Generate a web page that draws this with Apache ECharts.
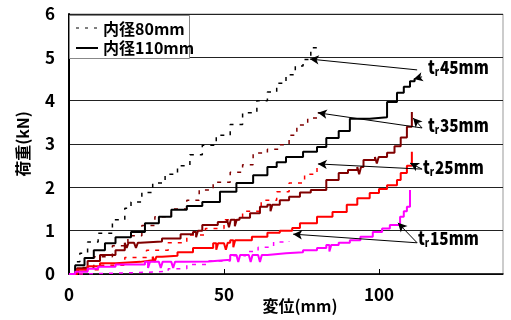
<!DOCTYPE html>
<html><head><meta charset="utf-8">
<script src="https://cdn.jsdelivr.net/npm/echarts@6/dist/echarts.min.js"></script>
<style>html,body{margin:0;padding:0;background:#fff}#c{width:511px;height:320px}</style>
</head><body><div id="c"></div>
<script>
// ---- data (x: 変位 mm, y: 荷重 kN) ----
var xTicks = [0, 50, 100];
var yTicks = [0, 1, 2, 3, 4, 5, 6];
// 内径80mm (dashed)
var t45_80 = [[0,0],[2,0.28],[3.5,0.48],[6,0.74],[9.4,0.94],[14,1.25],[18,1.52],[20,1.66],[23.5,1.88],[27,2.1],[31,2.3],[35,2.5],[39,2.75],[43,2.97],[47.5,3.2],[52,3.45],[56,3.72],[60.6,4.0],[64,4.2],[67,4.4],[70,4.6],[73,4.8],[75.5,4.95],[78,5.22],[81,5.22]];
var t35_80 = [[0,0],[3,0.15],[8,0.4],[14,0.65],[19,0.88],[23.5,1.12],[27.7,1.32],[33,1.5],[38,1.7],[42,1.94],[46.5,2.12],[52,2.35],[56,2.52],[59.4,2.79],[64,2.88],[68,2.98],[71,3.2],[73.5,3.44],[77,3.6],[80,3.72],[82,3.72]];
var t25_80 = [[0,0],[5,0.1],[10,0.2],[18,0.38],[25,0.55],[32,0.72],[38,0.9],[44,1.05],[50,1.25],[56,1.45],[62,1.7],[67,1.9],[71,2.1],[76,2.3],[80,2.54],[82,2.54]];
var t15_80 = [[0,0],[5,0.02],[15,0.04],[25,0.06],[32,0.12],[38,0.22],[45,0.3],[52,0.42],[57,0.52],[61,0.62],[66,0.74],[71,0.76]];
// 内径110mm (solid)
var t45_110 = [[0,0],[2,0.2],[5,0.37],[8,0.55],[11.6,0.71],[15,0.85],[20,0.97],[24.5,1.17],[29,1.32],[33,1.48],[38,1.57],[43,1.66],[48.7,1.9],[54,2.1],[59.4,2.28],[64,2.47],[67,2.58],[70,2.7],[75.5,2.82],[80,2.93],[83,3.14],[87,3.3],[90.6,3.58],[97,3.62],[102.6,3.97],[105.8,4.18],[108,4.32],[110,4.45],[111.5,4.5]];
var t35_110 = [[0,0],[2.6,0.13],[6,0.3],[10,0.44],[15,0.55],[18,0.72],[18.6,0.6],[19.2,0.72],[21,0.72],[21.6,0.6],[22.2,0.72],[23,0.75],[30,0.82],[36,0.92],[40,0.97],[41,0.85],[41.6,1.0],[43,1.13],[45,1.13],[48,1.2],[51,1.25],[51.6,1.08],[52.2,1.25],[53.5,1.1],[54.1,1.25],[55,1.3],[58.4,1.4],[61.6,1.55],[64,1.6],[65,1.45],[65.6,1.6],[68,1.7],[71,1.78],[74.5,1.88],[78,1.94],[83,2.17],[87,2.33],[90,2.4],[93,2.47],[93.6,2.3],[94.2,2.47],[95,2.63],[98.7,2.7],[99.3,2.55],[99.9,2.7],[102.6,2.8],[105,2.95],[107,3.15],[109,3.4],[110.6,3.74]];
var t25_110 = [[0,0],[2.6,0.1],[6,0.18],[10,0.25],[15,0.28],[23,0.32],[27,0.4],[27.6,0.28],[28.2,0.4],[30,0.42],[35,0.5],[40,0.6],[46.5,0.71],[47.5,0.56],[48.1,0.71],[50,0.72],[50.6,0.56],[51.2,0.72],[52,0.78],[53,0.62],[53.6,0.78],[59,0.86],[64,0.95],[68,1.0],[72,1.06],[74.5,1.17],[80,1.32],[85,1.43],[89.6,1.6],[93,1.75],[97,1.87],[100,1.96],[102.6,2.05],[105.8,2.17],[107,2.33],[109,2.5],[110.6,2.82]];
var t15_110 = [[0,0],[2,0.05],[6,0.12],[9.4,0.17],[15,0.22],[24.5,0.28],[25.5,0.14],[26.1,0.28],[29,0.28],[29.6,0.14],[30.2,0.28],[33,0.28],[33.6,0.14],[34.2,0.28],[37,0.29],[45,0.33],[52,0.44],[54,0.44],[54.6,0.28],[55.2,0.44],[58,0.44],[58.6,0.28],[59.2,0.44],[61,0.44],[61.6,0.28],[62.2,0.44],[64,0.48],[70,0.5],[75.5,0.55],[80,0.6],[83,0.67],[84,0.52],[84.6,0.67],[87,0.72],[90.6,0.78],[94,0.86],[98,0.97],[101,1.05],[103.5,1.13],[106.8,1.32],[108,1.45],[109,1.55],[110,1.94]];
// annotation labels and arrows (data coords)
var labelNames = ['45mm', '35mm', '25mm', '15mm'];
var labelPos = [[115.8,4.78],[115.8,3.44],[114.2,2.47],[112.6,0.83]];
var arrows = [
  [[112.3,4.71],[77.7,4.96]], [[113.9,4.55],[111.2,4.5]],
  [[113.9,3.37],[80.3,3.72]], [[113.9,3.37],[111,3.6]],
  [[113.9,2.42],[80.3,2.54]], [[113.9,2.42],[110,2.56]],
  [[112.3,0.72],[72.3,0.92]], [[112.3,0.72],[106.1,1.18]]
];
var colors = {t45:'#000000', t35:'#800000', t25:'#ff0000', t15:'#ff00ff'};

var TFONT = "'Noto Sans CJK JP',sans-serif";
var JFONT = "'Noto Sans CJK JP',sans-serif";

function dashed(name, data, color) {
  return {type:'line', name:name, data:data, step:'end', symbol:'none', silent:true,
    lineStyle:{color:color, width:1.5, type:[4,6]}, z:3};
}
function solid(name, data, color) {
  return {type:'line', name:name, data:data, step:'end', symbol:'none', silent:true,
    lineStyle:{color:color, width:2}, z:4};
}

var series = [
  dashed('t45_80', t45_80, colors.t45),
  dashed('t35_80', t35_80, colors.t35),
  dashed('t25_80', t25_80, colors.t25),
  dashed('t15_80', t15_80, colors.t15),
  solid('t45_110', t45_110, colors.t45),
  solid('t35_110', t35_110, colors.t35),
  solid('t25_110', t25_110, colors.t25),
  solid('t15_110', t15_110, colors.t15),
  {type:'line', name:'annot', data:[], silent:true, z:6,
    markLine:{silent:true, symbol:['none','arrow'], symbolSize:[7,9],
      lineStyle:{color:'#000', width:1, type:'solid'}, label:{show:false},
      data: arrows.map(function(a){return [{coord:a[0]},{coord:a[1]}];})}}
];

var legendGraphics = [
  {type:'rect', left:69, top:15, shape:{width:120, height:43}, style:{fill:'#fff', stroke:'#888', lineWidth:1}, z:10},
  {type:'line', shape:{x1:76, y1:28, x2:97, y2:28}, style:{stroke:'#000', lineWidth:1.2, lineDash:[3,6]}, z:11},
  {type:'line', shape:{x1:76, y1:48, x2:98, y2:48}, style:{stroke:'#000', lineWidth:2}, z:11},
  {type:'text', x:103, y:29, style:{text:'内径80mm', fontFamily:JFONT, fontSize:16, fontWeight:'bold', fill:'#000', verticalAlign:'middle'}, z:11},
  {type:'text', x:103, y:48, style:{text:'内径110mm', fontFamily:JFONT, fontSize:16, fontWeight:'bold', fill:'#000', verticalAlign:'middle'}, z:11}
];

var chart = echarts.init(document.getElementById('c'), null, {renderer:'canvas'});
chart.setOption({
  animation:false,
  backgroundColor:'#fff',
  grid:{left:69, right:8, top:14, bottom:46, show:true, borderColor:'#999', borderWidth:1,
    containLabel:false, outerBoundsMode:'none'},
  xAxis:{type:'value', min:0, max:140, interval:50,
    name:'変位(mm)', nameLocation:'middle', nameGap:24, nameMoveOverlap:false,
    nameTextStyle:{fontFamily:JFONT, fontSize:16, fontWeight:'bold', color:'#000', padding:[0,0,0,28]},
    axisLine:{show:true, lineStyle:{color:'#000', width:1.5}},
    axisTick:{show:true, inside:true, length:5, lineStyle:{color:'#000'}},
    axisLabel:{fontFamily:TFONT, fontSize:17, fontWeight:'bold', color:'#000', margin:12, showMaxLabel:false,
      formatter:function(v){return xTicks.indexOf(v)>=0 ? String(v) : '';}},
    splitLine:{show:false}},
  yAxis:{type:'value', min:0, max:6, interval:1,
    name:'荷重(kN)', nameLocation:'middle', nameGap:38, nameRotate:90, nameMoveOverlap:false,
    nameTextStyle:{fontFamily:JFONT, fontSize:16, fontWeight:'bold', color:'#000'},
    axisLine:{show:true, lineStyle:{color:'#000', width:2}},
    axisTick:{show:false},
    axisLabel:{fontFamily:TFONT, fontSize:17, fontWeight:'bold', color:'#000', margin:14,
      formatter:function(v){return yTicks.indexOf(v)>=0 ? String(v) : '';}},
    splitLine:{show:true, lineStyle:{color:'#222', width:1}}},
  graphic: legendGraphics,
  series: series
});

// annotation texts placed from data coords, horizontally condensed
var annot = labelPos.map(function(p, i) {
  var px = chart.convertToPixel({gridIndex:0}, p);
  return {type:'text', x:px[0], y:px[1], scaleX:0.85, scaleY:1, z:12,
    style:{text:'{a|t}{b|r}{a|' + labelNames[i] + '}', verticalAlign:'middle',
      rich:{a:{fontFamily:TFONT, fontSize:18, fontWeight:900, fill:'#000', color:'#000'},
            b:{fontFamily:TFONT, fontSize:11, fontWeight:900, fill:'#000', color:'#000', padding:[9,1,0,0]}}}};
});
chart.setOption({graphic: legendGraphics.concat(annot)});
</script></body></html>
